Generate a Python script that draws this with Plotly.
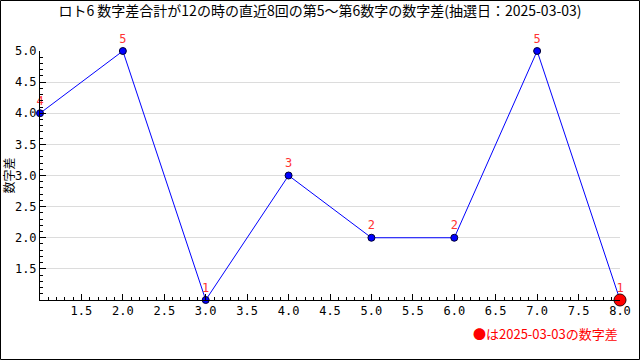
import plotly.graph_objects as go

draws = [1, 2, 3, 4, 5, 6, 7, 8]
diffs = [4, 5, 1, 3, 2, 2, 5, 1]
title = "ロト6 数字差合計が12の時の直近8回の第5～第6数字の数字差(抽選日：2025-03-03)"
ylabel = "数字差"
note = "●は2025-03-03の数字差"
xticks = [1.5, 2.0, 2.5, 3.0, 3.5, 4.0, 4.5, 5.0, 5.5, 6.0, 6.5, 7.0, 7.5, 8.0]
yticks = [1.5, 2.0, 2.5, 3.0, 3.5, 4.0, 4.5, 5.0]

mono = "DejaVu Sans Mono"

fig = go.Figure()
fig.add_trace(go.Scatter(
    x=draws, y=diffs, mode="lines+markers+text",
    line=dict(color="#0000ff", width=1),
    marker=dict(color="#0000ff", size=7, line=dict(color="#000033", width=1)),
    text=[str(v) for v in diffs], textposition="top center",
    textfont=dict(color="#ff3333", size=12, family=mono),
    cliponaxis=False, hoverinfo="skip", showlegend=False,
))
fig.add_trace(go.Scatter(
    x=draws[-1:], y=diffs[-1:], mode="markers",
    marker=dict(color="#ff0000", size=12, line=dict(color="#330000", width=1)),
    cliponaxis=False, hoverinfo="skip", showlegend=False,
))

L, R, T, B = 40, 20, 51, 60
pw, ph = 640 - L - R, 360 - T - B

fig.update_layout(
    width=640, height=360,
    margin=dict(l=L, r=R, t=T, b=B, autoexpand=False),
    paper_bgcolor="white", plot_bgcolor="white",
    font=dict(family=mono, size=12, color="black"),
    title=dict(text=title, x=0.5, xanchor="center", y=1 - 11 / 360, yanchor="middle",
               font=dict(size=14, family="Noto Sans CJK JP, " + mono)),
    xaxis=dict(range=[1, 8], tickvals=xticks, ticktext=[f"{v:.1f}" for v in xticks],
               ticks="inside", ticklen=6, tickcolor="black", showline=True,
               linecolor="black", linewidth=1, showgrid=False, zeroline=False,
               automargin=False,
               minor=dict(dtick=0.1, ticks="inside", ticklen=3, tickcolor="black"),
               tickfont=dict(size=12, family=mono)),
    yaxis=dict(range=[1, 5], tickvals=yticks, ticktext=[f"{v:.1f}" for v in yticks],
               ticks="inside", ticklen=6, tickcolor="black", showline=True,
               linecolor="black", linewidth=1, showgrid=True, gridcolor="#dcdcdc",
               zeroline=False, automargin=False,
               minor=dict(dtick=0.1, ticks="inside", ticklen=3, tickcolor="black", showgrid=False),
               tickfont=dict(size=12, family=mono)),
    shapes=[dict(type="rect", xref="paper", yref="paper",
                 x0=-(L - 0.5) / pw, x1=1 + (R - 0.5) / pw,
                 y0=-(B - 0.5) / ph, y1=1 + (T - 0.5) / ph,
                 line=dict(color="black", width=1), fillcolor="rgba(0,0,0,0)")],
    annotations=[
        dict(text=ylabel, xref="paper", yref="paper", x=-32 / pw, y=0.5,
             textangle=-90, showarrow=False, xanchor="center", yanchor="middle",
             font=dict(size=12, family="Noto Sans CJK JP")),
        dict(text=note, xref="paper", yref="paper", x=1, y=-33 / ph,
             showarrow=False, xanchor="right", yanchor="middle",
             font=dict(size=13, color="#ff0000", family="Noto Sans CJK JP, " + mono)),
    ],
)

fig.write_html("out.html", config={"displayModeBar": False},
               post_script="document.body.style.margin='0';document.body.style.padding='0';")
